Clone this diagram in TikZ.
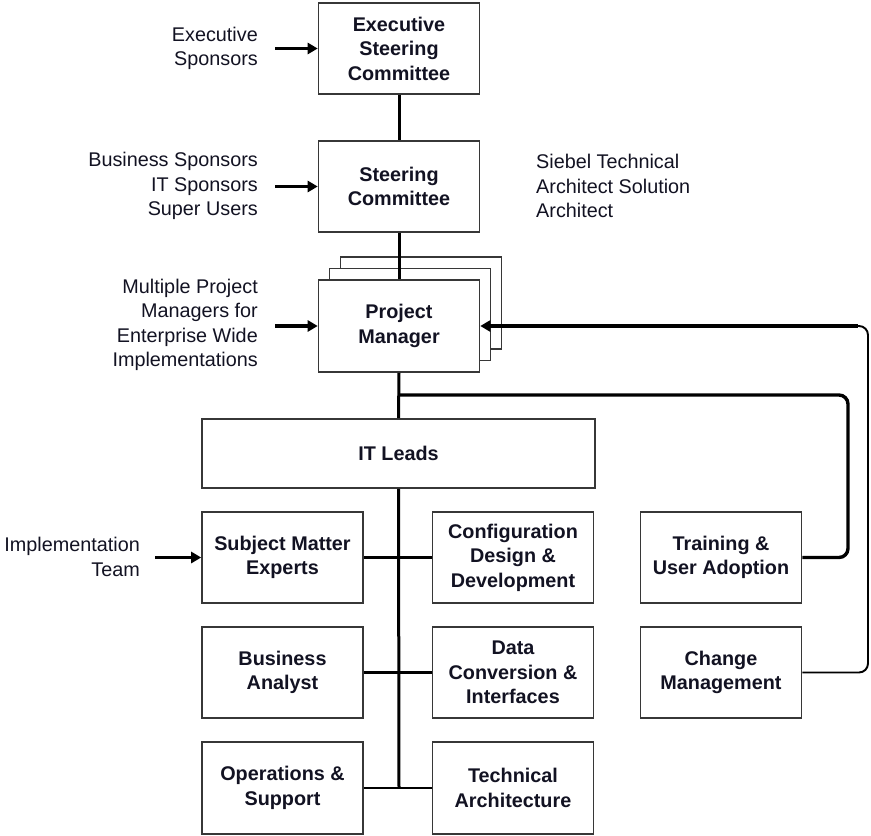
\documentclass[tikz,border=0pt]{standalone}
\usepackage{fontspec}
\setmainfont{Liberation Sans}
\usetikzlibrary{arrows.meta}
\definecolor{boxgray}{RGB}{55,55,55}
\definecolor{ink}{RGB}{18,18,34}
\newcommand{\lblfont}{\fontsize{19.8}{24.5}\selectfont}
\begin{document}
\begin{tikzpicture}[x=1pt,y=-1pt,
  box/.style={draw=boxgray, line width=1.6pt, fill=white, rectangle, align=center,
              text=ink, font=\lblfont\bfseries, inner sep=0pt,
              minimum width=161pt, minimum height=91pt},
  side/.style={font=\lblfont, text=ink, inner sep=0pt},
  link/.style={line width=3pt, black},
  feed/.style={line width=3.2pt, black, -{Triangle[length=10pt,width=11pt]}},
]
\useasboundingbox (0,0) rectangle (871,836);

% upper chain
\node[box] (esc) at (399,48.5) {Executive\\Steering\\Committee};
\node[box] (sc)  at (399,186.5) {Steering\\Committee};
\node[box, minimum height=92pt] (pmb2) at (421,303) {};
\node[box, minimum height=92pt] (pmb1) at (410,314.5) {};
\node[box, minimum height=92pt] (pm)  at (399,326) {Project\\Manager};
\node[box, minimum width=393pt, minimum height=69pt] (it) at (398.5,453.5) {IT Leads};

% implementation team boxes
\node[box] (sme) at (282.5,557.5) {Subject Matter\\Experts};
\node[box] (cfg) at (513,557.5) {Configuration\\Design \&\\Development};
\node[box] (ba)  at (282.5,672.5) {Business\\Analyst};
\node[box] (dc)  at (513,672.5) {Data\\Conversion \&\\Interfaces};
\node[box, minimum height=92pt] (ops) at (282.5,788) {Operations \&\\Support};
\node[box, minimum height=92pt] (tech) at (513,788) {Technical\\Architecture};
\node[box] (trn) at (721,557.5) {Training \&\\User Adoption};
\node[box] (chg) at (721,672.5) {Change\\Management};

% side labels
\node[side, anchor=east, align=right] (exsp) at (258,48.5) {Executive\\Sponsors};
\node[side, anchor=east, align=right] (bsp) at (258,186) {Business Sponsors\\IT Sponsors\\Super Users};
\node[side, anchor=east, align=right] (mpm) at (258,325) {Multiple Project\\Managers for\\Enterprise Wide\\Implementations};
\node[side, anchor=east, align=right] (imp) at (140,557) {Implementation\\Team};
\node[side, anchor=west, align=left] (arch) at (536,186) {Siebel Technical\\Architect Solution\\Architect};

% connector anchor points
\coordinate (t1) at (275,48.5);
\coordinate (t2) at (275,186.5);
\coordinate (t3) at (275,326);
\coordinate (t4) at (155,557.5);
\coordinate (tap) at (399,395);
\coordinate (inner) at (848,395);
\coordinate (outer) at (868,326);
\coordinate (outerin) at (858,326);
\coordinate (foot) at (399,788);

% vertical chain
\draw[link] (esc.south) -- (sc.north);
\draw[link] (sc.south) -- (pm.north);
\draw[link] (pm.south) -- (it.north);
\draw[link] (it.south) -- (foot);

% cross links
\draw[line width=3.4pt] (sme.east) -- (cfg.west);
\draw[line width=2.4pt] (ba.east) -- (dc.west);
\draw[line width=2.8pt] (ops.east) -- (tech.west);

% feedback loops
\draw[line width=3.4pt, rounded corners=9pt] (trn.east) -| (inner) -- (tap);
\draw[line width=1.9pt, rounded corners=9pt] (chg.east) -| (outer) -- (outerin);
\draw[feed] (outerin) -- (pm.east);

% incoming arrows
\draw[feed] (t1) -- (esc.west);
\draw[feed] (t2) -- (sc.west);
\draw[feed] (t3) -- (pm.west);
\draw[feed] (t4) -- (sme.west);
\end{tikzpicture}
\end{document}
